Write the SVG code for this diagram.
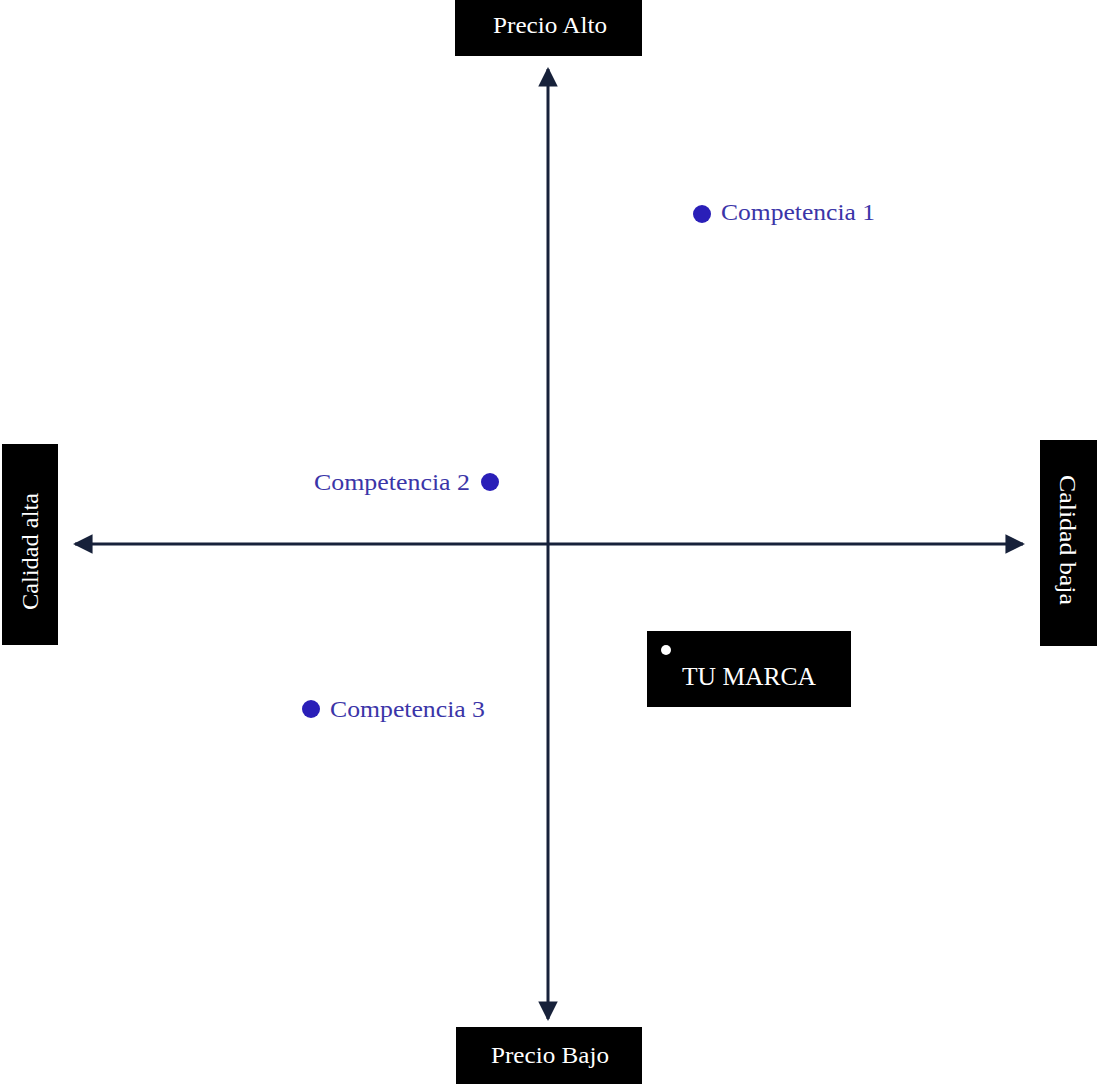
<svg xmlns="http://www.w3.org/2000/svg" width="1097" height="1084" viewBox="0 0 1097 1084">
<style>
.box{fill:#000;}
.lbl{font-family:"Liberation Serif","DejaVu Serif",serif;fill:#fff;font-size:23px;}
.comp{font-family:"Liberation Serif","DejaVu Serif",serif;fill:#3b35a8;font-size:23px;}
.dot{fill:#2a1fb8;}
.axis{stroke:#17213a;stroke-width:3;fill:none;}
</style>
<defs>
<marker id="ah" viewBox="0 0 10 10" refX="9" refY="5" markerWidth="6.5" markerHeight="6.5" orient="auto-start-reverse" markerUnits="strokeWidth">
<path d="M0,0 L10,5 L0,10 Z" fill="#17213a"/>
</marker>
</defs>
<rect width="1097" height="1084" fill="#fff"/>
<g id="connectors">
<line class="axis" x1="548" y1="69" x2="548" y2="1019" marker-start="url(#ah)" marker-end="url(#ah)"/>
<line class="axis" x1="75" y1="544" x2="1023" y2="544" marker-start="url(#ah)" marker-end="url(#ah)"/>
</g>
<g id="precio-alto">
<rect class="box" x="455" y="0" width="187" height="56"/>
<text class="lbl" x="493" y="33" textLength="114" lengthAdjust="spacingAndGlyphs">Precio Alto</text>
</g>
<g id="precio-bajo">
<rect class="box" x="456" y="1027" width="186" height="57"/>
<text class="lbl" x="491" y="1063" textLength="118" lengthAdjust="spacingAndGlyphs">Precio Bajo</text>
</g>
<g id="calidad-alta">
<rect class="box" x="2" y="444" width="56" height="201"/>
<text class="lbl" transform="translate(38,610) rotate(-90)" textLength="117" lengthAdjust="spacingAndGlyphs">Calidad alta</text>
</g>
<g id="calidad-baja">
<rect class="box" x="1040" y="440" width="57" height="206"/>
<text class="lbl" transform="translate(1060,475) rotate(90)" textLength="130" lengthAdjust="spacingAndGlyphs">Calidad baja</text>
</g>
<g id="tu-marca">
<rect class="box" x="647" y="631" width="204" height="76"/>
<circle cx="666" cy="650" r="5" fill="#fff"/>
<text class="lbl" x="682" y="685" style="font-size:26px" textLength="134" lengthAdjust="spacingAndGlyphs">TU MARCA</text>
</g>
<g id="competencia-1">
<circle class="dot" cx="702" cy="214" r="9"/>
<text class="comp" x="721" y="220" textLength="154" lengthAdjust="spacingAndGlyphs">Competencia 1</text>
</g>
<g id="competencia-2">
<circle class="dot" cx="490" cy="482" r="9"/>
<text class="comp" x="314" y="490" textLength="156" lengthAdjust="spacingAndGlyphs">Competencia 2</text>
</g>
<g id="competencia-3">
<circle class="dot" cx="311" cy="709" r="9"/>
<text class="comp" x="330" y="717" textLength="155" lengthAdjust="spacingAndGlyphs">Competencia 3</text>
</g>
</svg>
